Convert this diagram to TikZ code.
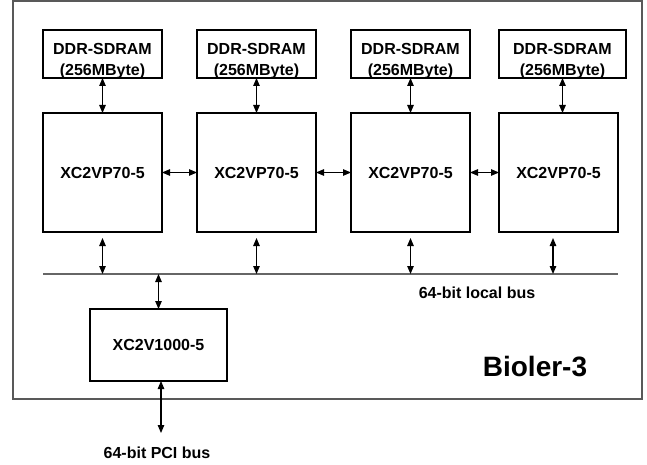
\documentclass[tikz,border=0pt]{standalone}
\usepackage{fontspec}
\setmainfont{Liberation Sans}
\usetikzlibrary{arrows.meta,positioning,calc}

\begin{document}
\begin{tikzpicture}[
    x=1pt, y=-1pt,
    font=\fontsize{16}{21}\selectfont\bfseries,
    >={Triangle[length=8pt, width=6.5pt]},
    block/.style  ={rectangle, draw=black, line width=2.2pt, inner sep=0pt,
                    outer sep=0pt, align=center},
    ddr/.style    ={block, minimum width=119pt, minimum height=48pt,
                    label={[lbl, align=center, yshift=-7pt]center:%
                    DDR-SDRAM\\(256MByte)}},
    fpga/.style   ={block, minimum width=119pt, minimum height=119pt},
    bridge/.style ={block, minimum width=137pt, minimum height=72pt},
    link/.style   ={<->, line width=1.2pt},
    bus/.style    ={line width=2pt, black!60},
    lbl/.style    ={inner sep=0pt},
]
\useasboundingbox (0,0) rectangle (647,465);

% board outline
\draw[line width=1.5pt, black!65] (13,1) rectangle (642,399);

% ------------------------------------------------------------
%  FPGA row + memories
% ------------------------------------------------------------
\node[fpga] (fpga1) at (102.5,172.5) {XC2VP70-5};
\node[fpga, right=35pt of fpga1] (fpga2) {XC2VP70-5};
\node[fpga, right=35pt of fpga2] (fpga3) {XC2VP70-5};
\node[fpga, right=29pt of fpga3] (fpga4) {XC2VP70-5};

\node[ddr, above=35pt of fpga1] (ddr1) {};
\node[ddr, above=35pt of fpga2] (ddr2) {};
\node[ddr, above=35pt of fpga3] (ddr3) {};
\node[ddr, above=35pt of fpga4, minimum width=127pt, xshift=4pt] (ddr4) {};

\foreach \i in {1,2,3}
  \draw[link] (ddr\i.south) -- (fpga\i.north);
\draw[link] (ddr4.south) -- (ddr4.south |- fpga4.north);

\draw[link] (fpga1) -- (fpga2);
\draw[link] (fpga2) -- (fpga3);
\draw[link] (fpga3) -- (fpga4);

% ------------------------------------------------------------
%  local bus
% ------------------------------------------------------------
\coordinate (busL) at (43,274);
\coordinate (busR) at (618,274);
\coordinate (tap4) at (553,274);
\draw[bus] (busL) -- (busR);

\foreach \i in {1,2,3}
  \draw[link] ($(fpga\i.south)+(0,6)$) -- (fpga\i.south |- busL);
\draw[link] ($(tap4 |- fpga4.south)+(0,6)$) -- (tap4);

\node[lbl] (localbus) at (477,293) {64-bit local bus};

% ------------------------------------------------------------
%  PCI bridge
% ------------------------------------------------------------
\node[bridge] (pci) at (158.5,345) {XC2V1000-5};
\coordinate (pciend) at (161,433);

\draw[link] (pci.north |- busL) -- (pci.north);
\draw[link] (pci.south -| pciend) -- (pciend);

\node[lbl] (pcibus) at (157,453) {64-bit PCI bus};
\node[lbl, font=\fontsize{28}{32}\selectfont\bfseries] (board) at (535,367)
        {Bioler-3};

\end{tikzpicture}
\end{document}
